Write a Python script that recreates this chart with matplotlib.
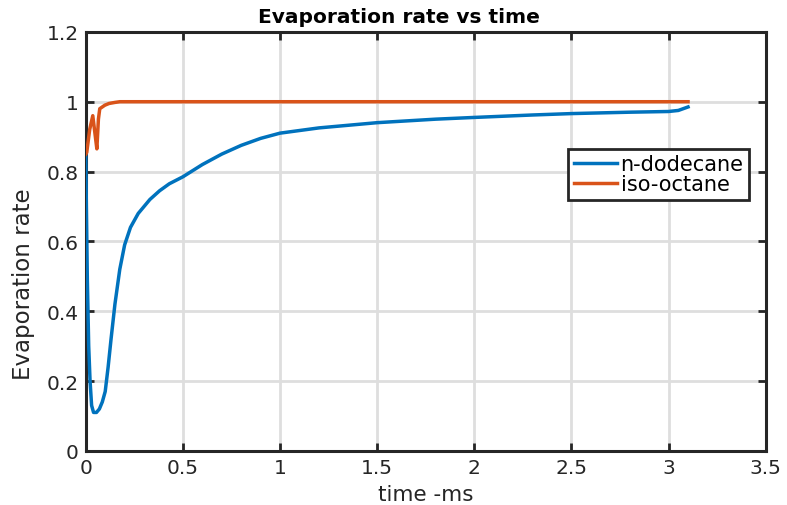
import matplotlib
matplotlib.use("Agg")
import matplotlib.pyplot as plt

t_dodecane = [0.0, 0.003, 0.008, 0.015, 0.022, 0.03, 0.04, 0.055, 0.07, 0.085, 0.1, 0.115, 0.13,
              0.15, 0.175, 0.2, 0.23, 0.27, 0.33, 0.38, 0.43, 0.5, 0.6, 0.7, 0.8, 0.9, 1.0,
              1.2, 1.5, 1.8, 2.0, 2.3, 2.5, 2.8, 3.0, 3.05, 3.1]
r_dodecane = [0.85, 0.70, 0.49, 0.30, 0.20, 0.13, 0.11, 0.11, 0.12, 0.14, 0.17, 0.24, 0.32,
              0.42, 0.52, 0.59, 0.64, 0.68, 0.72, 0.745, 0.765, 0.785, 0.82, 0.85, 0.875, 0.895, 0.91,
              0.925, 0.94, 0.95, 0.955, 0.962, 0.966, 0.97, 0.972, 0.975, 0.985]

t_isooctane = [0.0, 0.005, 0.02, 0.036, 0.047, 0.057, 0.065, 0.072, 0.085, 0.098, 0.12, 0.15, 0.175, 0.3, 1.0, 2.0, 3.1]
r_isooctane = [0.85, 0.855, 0.92, 0.96, 0.91, 0.865, 0.95, 0.98, 0.985, 0.99, 0.995, 0.998, 1.0, 1.0, 1.0, 1.0, 1.0]

xticks = [0, 0.5, 1, 1.5, 2, 2.5, 3, 3.5]
xtick_labels = ["0", "0.5", "1", "1.5", "2", "2.5", "3", "3.5"]
yticks = [0, 0.2, 0.4, 0.6, 0.8, 1.0, 1.2]
ytick_labels = ["0", "0.2", "0.4", "0.6", "0.8", "1", "1.2"]

fig = plt.figure(figsize=(7.87, 5.06), dpi=100)
ax = fig.add_axes([0.109, 0.107, 0.864, 0.828])

ax.plot(t_dodecane, r_dodecane, color="#0072BD", lw=2.5, label="n-dodecane", zorder=3)
ax.plot(t_isooctane, r_isooctane, color="#D95319", lw=2.5, label="iso-octane", zorder=3)

ax.set_xlim(0, 3.5)
ax.set_ylim(0, 1.2)
ax.set_xticks(xticks)
ax.set_xticklabels(xtick_labels)
ax.set_yticks(yticks)
ax.set_yticklabels(ytick_labels)
ax.grid(True, color="#dedede", lw=2)
ax.set_axisbelow(True)
for s in ax.spines.values():
    s.set_linewidth(2.2)
    s.set_color("#262626")
ax.tick_params(direction="in", top=True, right=True, length=6, width=2, labelsize=14.5,
               colors="#262626", pad=5)

ax.set_title("Evaporation rate vs time", fontsize=14.5, fontweight="bold", pad=7, x=0.46)
ax.set_xlabel("time -ms", fontsize=15.5, color="#262626", labelpad=5)
ax.set_ylabel("Evaporation rate", fontsize=16.5, color="#262626")
ax.yaxis.set_label_coords(-0.075, 0.4)

leg = ax.legend(loc="upper right", bbox_to_anchor=(0.975, 0.72), fontsize=15,
                frameon=True, fancybox=False, handlelength=2.1, handletextpad=0.15,
                borderpad=0.25, labelspacing=0.0, borderaxespad=0)
leg.get_frame().set_edgecolor("#262626")
leg.get_frame().set_linewidth(2)
leg.get_frame().set_alpha(1)

fig.savefig("out.png", dpi=100)
